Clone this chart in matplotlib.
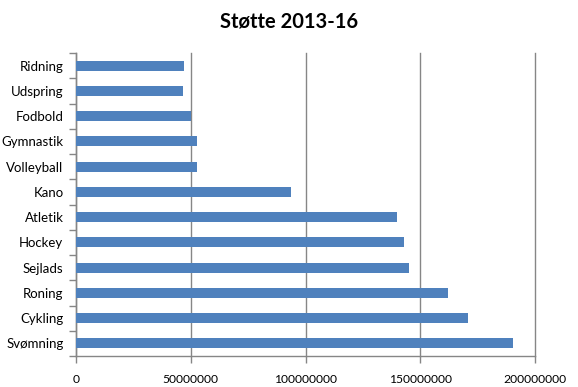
import matplotlib
matplotlib.use("Agg")
import matplotlib.pyplot as plt
import numpy as np

categories = ["Svømning", "Cykling", "Roning", "Sejlads", "Hockey", "Atletik",
              "Kano", "Volleyball", "Gymnastik", "Fodbold", "Udspring", "Ridning"]
values = [190200000, 171000000, 162300000, 145300000, 143000000, 140000000,
          93800000, 52700000, 52700000, 49900000, 46700000, 47100000]
xticks = [0, 50000000, 100000000, 150000000, 200000000]
title = "Støtte 2013-16"

plt.rcParams['font.family'] = ['Lato', 'DejaVu Sans']

fig = plt.figure(figsize=(5.78, 3.87), dpi=100)
ax = fig.add_axes([76/578, 1-356/387, (535-76)/578, (356-53)/387])

y = np.arange(len(categories))
ax.barh(y, values, height=0.4, color="#4F81BD", zorder=3)
ax.set_xlim(0, 200000000)
ax.set_ylim(-0.5, len(categories)-0.5)

ax.set_xticks(xticks)
ax.set_xticklabels([str(t) for t in xticks], fontsize=8.7)
ax.set_yticks(y)
ax.set_yticklabels(categories, fontsize=9.5)
ax.set_yticks(np.arange(-0.5, len(categories), 1), minor=True)
ax.tick_params(axis='y', which='major', length=0, pad=9)
ax.tick_params(axis='y', which='minor', length=5, color="#868686", width=1)
ax.tick_params(axis='x', which='major', length=5, color="#868686", width=1, pad=8)

ax.grid(axis='x', color="#868686", linewidth=1, zorder=0)
for gl in ax.get_xgridlines():
    gl.set_clip_on(False)
for s in ['top', 'right']:
    ax.spines[s].set_visible(False)
for s in ['left', 'bottom']:
    ax.spines[s].set_color("#868686")
    ax.spines[s].set_linewidth(1)

fig.text(0.5, 1-22/387, title, ha='center', va='center', fontsize=14.5, fontweight='bold')

fig.savefig("out.png", dpi=100)
